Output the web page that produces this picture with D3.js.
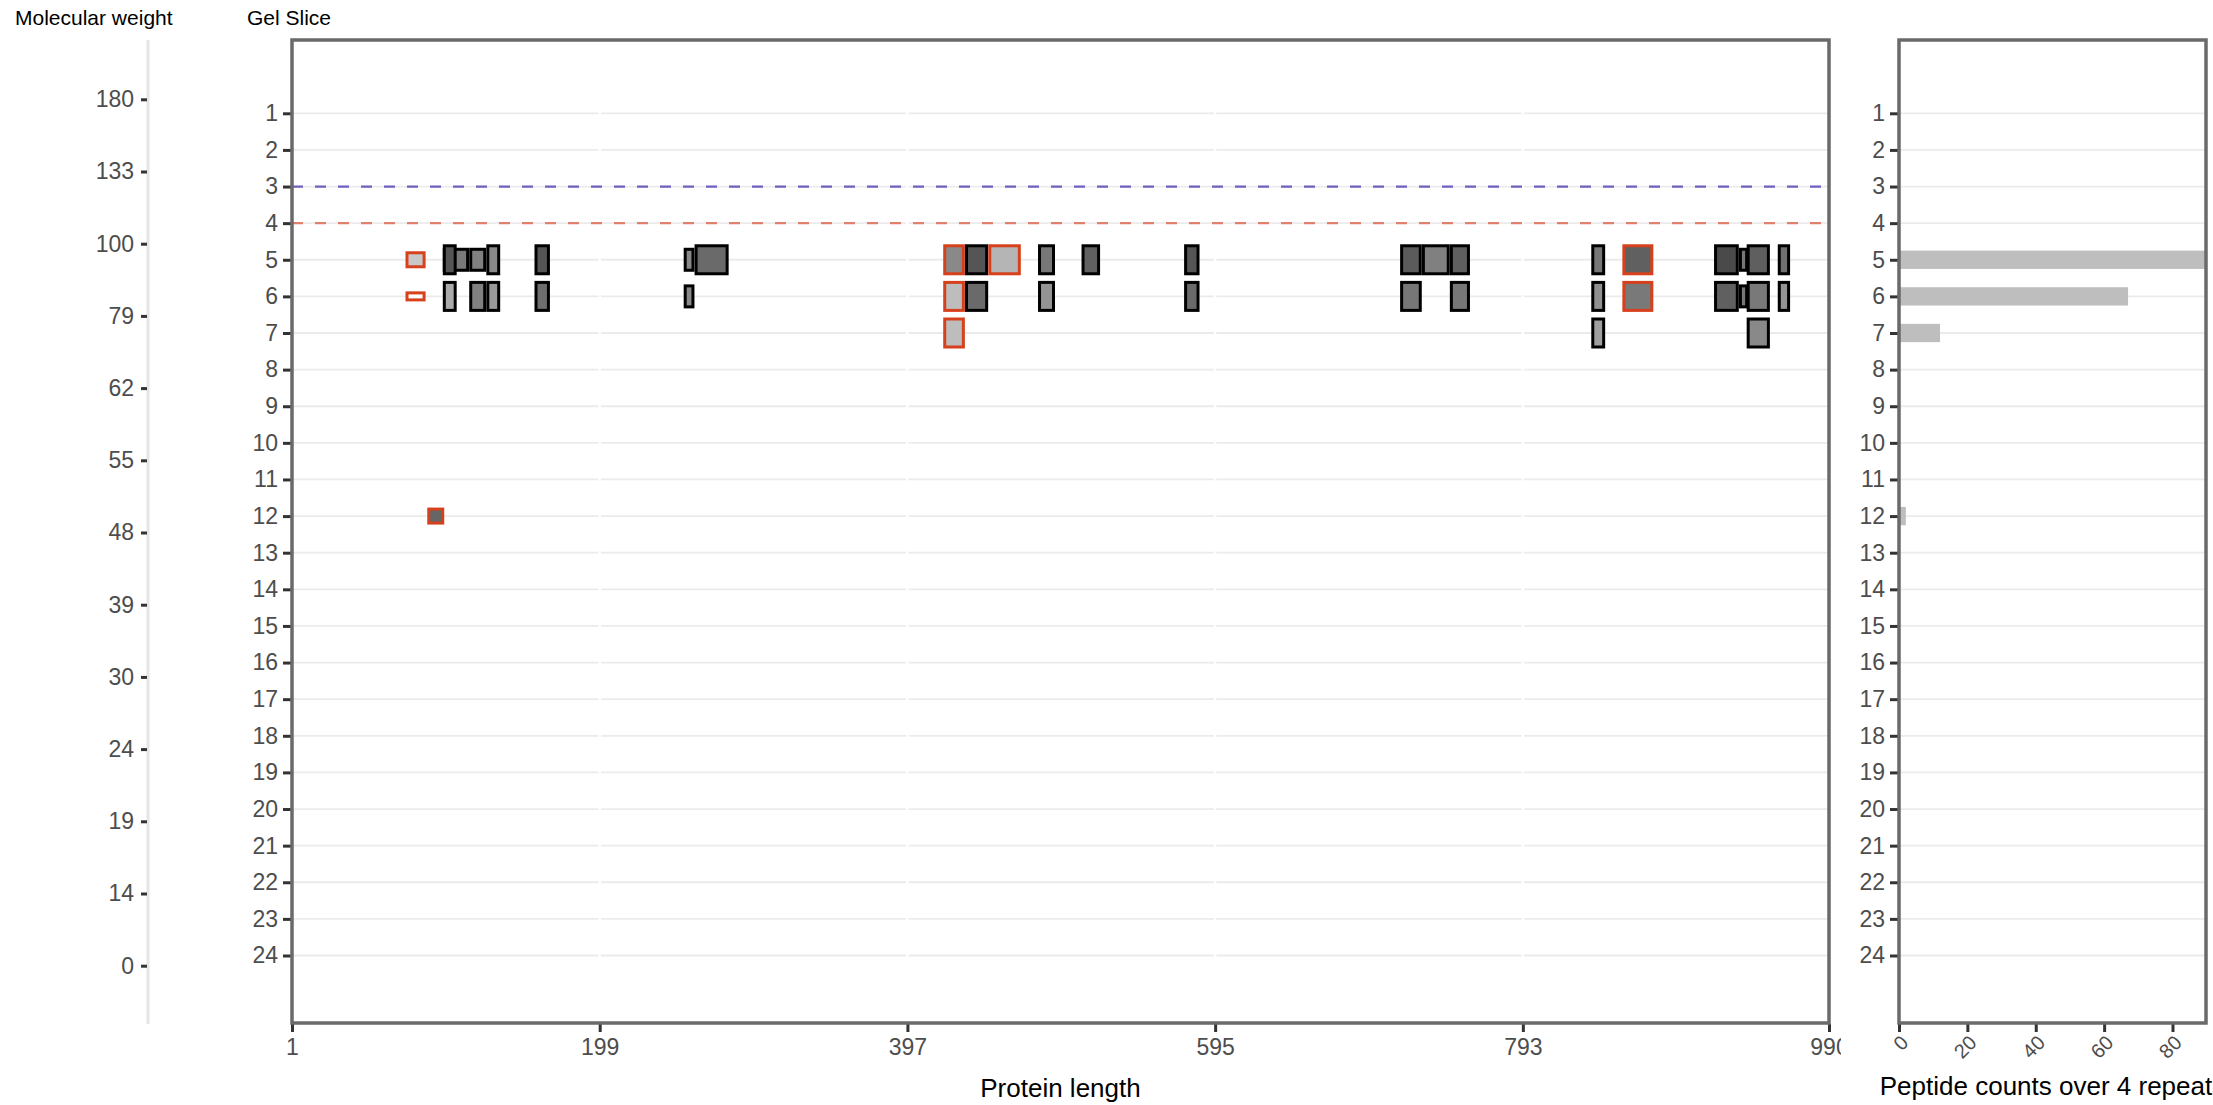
<!DOCTYPE html>
<html>
<head>
<meta charset="utf-8">
<script src="https://cdn.jsdelivr.net/npm/d3@7"></script>
<style>
  html, body { margin: 0; padding: 0; background: #fff; }
  svg { display: block; font-family: "Liberation Sans", Arial, Helvetica, sans-serif; }
</style>
</head>
<body>
<svg id="chart" width="2213" height="1105"></svg>
<script>
// ---------------- DATA ----------------
const mwLabels = ["180", "133", "100", "79", "62", "55", "48", "39", "30", "24", "19", "14", "0"];
const sliceLabels = d3.range(1, 25);
const proteinTicks = [1, 199, 397, 595, 793, 990];
const countTicks = [0, 20, 40, 60, 80];

// peptides: gel slice, start, end, repeats (of 4) in which seen, intensity (0-1), unique flag
const pepSlice  = [5,5,5,5,5,5,5,5,5,5,5,5,5,5,5,5,5,5,5,5,5,5,5,
                   6,6,6,6,6,6,6,6,6,6,6,6,6,6,6,6,6,6,
                   7,7,7,
                   12];
const pepStart  = [75,99,116,99,127,158,254,261,421,435,450,482,510,576,715,729,747,838,858,933,917,938,958,
                   75,99,116,127,158,254,421,435,482,576,715,747,838,858,933,917,938,958,
                   421,838,938,
                   89];
const pepEnd    = [86,114,125,106,134,166,259,281,433,448,469,491,520,584,727,745,758,845,876,937,931,951,964,
                   86,106,125,134,166,259,433,448,491,584,727,758,845,876,937,931,951,964,
                   433,845,951,
                   98];
const pepRepeats = [2,3,3,4,4,4,3,4,4,4,4,4,4,4,4,4,4,4,4,3,4,4,4,
                    1,4,4,4,4,3,4,4,4,4,4,4,4,4,3,4,4,4,
                    4,4,4,
                    2];
const pepIntensity = [0.29,0.70,0.665,0.89,0.62,0.89,0.62,0.78,0.62,0.89,0.39,0.71,0.83,0.89,0.86,0.665,0.84,0.71,0.83,0.71,0.95,0.84,0.75,
                      0.0,0.445,0.665,0.534,0.76,0.62,0.346,0.78,0.56,0.78,0.71,0.71,0.58,0.70,0.71,0.83,0.70,0.555,
                      0.346,0.50,0.62,
                      0.80];
const pepUnique = [1,0,0,0,0,0,0,0,1,0,1,0,0,0,0,0,0,0,1,0,0,0,0,
                   1,0,0,0,0,0,1,0,0,0,0,0,0,1,0,0,0,0,
                   1,0,0,
                   1];

// peptide counts over 4 repeats per slice
const countSlices = [5, 6, 7, 12];
const countValues = [95, 67, 12, 2];

// reference slices (dashed lines)
const refSlices = [3, 4];

// ---------------- LAYOUT / STYLE ----------------
const svg = d3.select("#chart");
const panelTop = 40, panelBottom = 1023;
const main = { left: 292, right: 1829 };
const side = { left: 1899, right: 2206 };
const mwAxisX = 148;
const tickColor = "#333333", labelColor = "#4d4d4d", gridColor = "#ebebeb", borderColor = "#6a6a6a";
const refColors = ["#6f5fbf", "#e0806f"];
const uniqueColor = "#d7401c";
const tickFont = 23;

const y = d3.scaleLinear().domain([1, 24]).range([113.3, 955.5]);
const x = d3.scaleLinear().domain([1, 990]).range([main.left, main.right]);
const xc = d3.scaleLinear().domain([0, 89.8]).range([side.left, side.right]);
const ymw = d3.scalePoint().domain(mwLabels).range([99.3, 965.7]);
const grey = d3.scaleLinear().domain([0, 1]).range(["#ffffff", "#404040"]).interpolate(d3.interpolateRgb);
const bandStep = y(2) - y(1);
const rectFull = 28;
const hScale = d3.scaleLinear().domain([0, 4]).range([0, rectFull]);

// ---------------- TITLES ----------------
svg.append("text").attr("x", 15).attr("y", 25).attr("font-size", 21).attr("fill", "#000").text("Molecular weight");
svg.append("text").attr("x", 247).attr("y", 25).attr("font-size", 21).attr("fill", "#000").text("Gel Slice");

// ---------------- MW AXIS ----------------
const mwG = svg.append("g");
mwG.append("line").attr("x1", mwAxisX).attr("x2", mwAxisX).attr("y1", panelTop).attr("y2", panelBottom + 1)
  .attr("stroke", "#e5e5e5").attr("stroke-width", 3);
const mwAxis = d3.axisLeft(ymw).tickSize(6).tickPadding(7);
const mwAxG = mwG.append("g").attr("transform", `translate(${mwAxisX - 1},0)`).call(mwAxis);
mwAxG.select(".domain").remove();
mwAxG.selectAll(".tick line").attr("stroke", tickColor).attr("stroke-width", 3);
mwAxG.selectAll(".tick text").attr("font-size", tickFont).attr("fill", labelColor).attr("font-family", null);

// ---------------- MAIN PANEL ----------------
const mainG = svg.append("g");
mainG.append("clipPath").attr("id", "clipMain").append("rect")
  .attr("x", main.left).attr("y", panelTop).attr("width", main.right - main.left).attr("height", panelBottom - panelTop);
const plotG = mainG.append("g").attr("clip-path", "url(#clipMain)");

// horizontal grid
plotG.selectAll("line.grid").data(sliceLabels).join("line").attr("class", "grid")
  .attr("x1", main.left).attr("x2", main.right).attr("y1", d => y(d)).attr("y2", d => y(d))
  .attr("stroke", gridColor).attr("stroke-width", 1.8);
// vertical breaks (white major x grid)
plotG.selectAll("line.vgrid").data(proteinTicks.slice(1, -1)).join("line").attr("class", "vgrid")
  .attr("x1", d => x(d)).attr("x2", d => x(d)).attr("y1", panelTop).attr("y2", panelBottom)
  .attr("stroke", "#ffffff").attr("stroke-width", 2.5);

// reference dashed lines
plotG.selectAll("line.ref").data(refSlices).join("line").attr("class", "ref")
  .attr("x1", main.left).attr("x2", main.right).attr("y1", d => y(d)).attr("y2", d => y(d))
  .attr("stroke", (d, i) => refColors[i]).attr("stroke-width", 2.2).attr("stroke-dasharray", "11,12");

// peptide rectangles
const peps = pepSlice.map((s, i) => ({
  slice: s, start: pepStart[i], end: pepEnd[i], rep: pepRepeats[i], inten: pepIntensity[i], uniq: pepUnique[i]
}));
plotG.selectAll("rect.pep").data(peps).join("rect").attr("class", "pep")
  .attr("x", d => x(d.start)).attr("width", d => x(d.end) - x(d.start))
  .attr("y", d => y(d.slice) - hScale(d.rep) / 2).attr("height", d => hScale(d.rep))
  .attr("fill", d => grey(d.inten))
  .attr("stroke", d => d.uniq ? uniqueColor : "#000000").attr("stroke-width", 3);

// main axes
const yAxMain = mainG.append("g").attr("transform", `translate(${main.left - 1},0)`)
  .call(d3.axisLeft(y).tickValues(sliceLabels).tickFormat(d3.format("d")).tickSize(8).tickPadding(5));
yAxMain.select(".domain").remove();
yAxMain.selectAll(".tick line").attr("stroke", tickColor).attr("stroke-width", 3);
yAxMain.selectAll(".tick text").attr("font-size", tickFont).attr("fill", labelColor).attr("font-family", null);

// clip rect is in the axis group's (translated) coordinates
mainG.append("clipPath").attr("id", "clipXLab").append("rect")
  .attr("x", 0).attr("y", -5).attr("width", 1841).attr("height", 80);
const xAxMain = mainG.append("g").attr("transform", `translate(0,${panelBottom + 1})`)
  .attr("clip-path", "url(#clipXLab)")
  .call(d3.axisBottom(x).tickValues(proteinTicks).tickFormat(d3.format("d")).tickSize(8).tickPadding(7));
xAxMain.select(".domain").remove();
xAxMain.selectAll(".tick line").attr("stroke", tickColor).attr("stroke-width", 3);
xAxMain.selectAll(".tick text").attr("font-size", tickFont).attr("fill", labelColor).attr("font-family", null);

// border
mainG.append("rect").attr("x", main.left).attr("y", panelTop)
  .attr("width", main.right - main.left).attr("height", panelBottom - panelTop)
  .attr("fill", "none").attr("stroke", borderColor).attr("stroke-width", 3.5);

svg.append("text").attr("x", (main.left + main.right) / 2).attr("y", 1097).attr("text-anchor", "middle")
  .attr("font-size", 26).attr("fill", "#000").text("Protein length");

// ---------------- SIDE PANEL ----------------
const sideG = svg.append("g");
sideG.append("clipPath").attr("id", "clipSide").append("rect")
  .attr("x", side.left).attr("y", panelTop).attr("width", side.right - side.left).attr("height", panelBottom - panelTop);
const sPlot = sideG.append("g").attr("clip-path", "url(#clipSide)");
sPlot.selectAll("line.grid").data(sliceLabels).join("line").attr("class", "grid")
  .attr("x1", side.left).attr("x2", side.right).attr("y1", d => y(d)).attr("y2", d => y(d))
  .attr("stroke", gridColor).attr("stroke-width", 1.8);
sPlot.selectAll("rect.bar").data(countSlices.map((s, i) => ({ s, v: countValues[i] }))).join("rect").attr("class", "bar")
  .attr("x", xc(0)).attr("width", d => xc(d.v) - xc(0))
  .attr("y", d => y(d.s) - bandStep / 4).attr("height", bandStep / 2)
  .attr("fill", "#bebebe");

const yAxSide = sideG.append("g").attr("transform", `translate(${side.left - 1},0)`)
  .call(d3.axisLeft(y).tickValues(sliceLabels).tickFormat(d3.format("d")).tickSize(8).tickPadding(5));
yAxSide.select(".domain").remove();
yAxSide.selectAll(".tick line").attr("stroke", tickColor).attr("stroke-width", 3);
yAxSide.selectAll(".tick text").attr("font-size", tickFont).attr("fill", labelColor).attr("font-family", null);

const xAxSide = sideG.append("g").attr("transform", `translate(0,${panelBottom + 1})`)
  .call(d3.axisBottom(xc).tickValues(countTicks).tickFormat(d3.format("d")).tickSize(8));
xAxSide.select(".domain").remove();
xAxSide.selectAll(".tick line").attr("stroke", tickColor).attr("stroke-width", 3);
xAxSide.selectAll(".tick text")
  .attr("font-size", 20).attr("fill", labelColor).attr("font-family", null)
  .attr("text-anchor", "end").attr("dy", null).attr("y", null)
  .attr("transform", "translate(10,20) rotate(-45)");

sideG.append("rect").attr("x", side.left).attr("y", panelTop)
  .attr("width", side.right - side.left).attr("height", panelBottom - panelTop)
  .attr("fill", "none").attr("stroke", borderColor).attr("stroke-width", 3.5);

svg.append("text").attr("x", (side.left + side.right) / 2).attr("y", 1095).attr("text-anchor", "middle")
  .attr("font-size", 26).attr("fill", "#000").text("Peptide counts over 4 repeats");
</script>
</body>
</html>
